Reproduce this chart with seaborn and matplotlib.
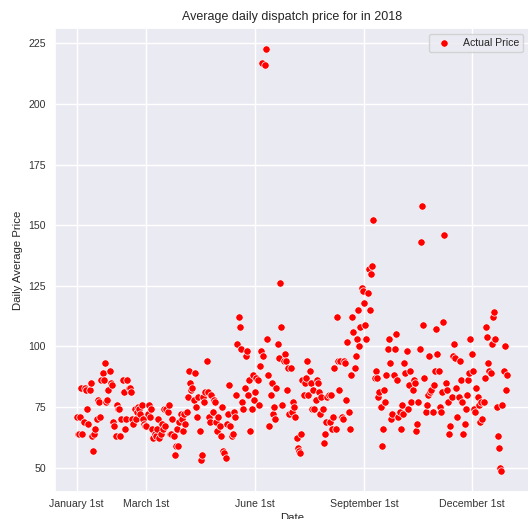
import matplotlib
matplotlib.use("Agg")
import matplotlib.pyplot as plt
import numpy as np
import pandas as pd
import seaborn as sns

# daily average dispatch price, one list per month
jan = [71, 64, 64, 71, 83, 64, 69, 83, 82, 74, 68, 82, 85, 63, 57, 64, 66, 70, 78, 77,
       71, 86, 89, 86, 93, 77, 78, 82, 90, 85, 84]
feb = [69, 67, 63, 76, 74, 74, 63, 70, 86, 81, 66, 70, 86, 83, 83, 81, 70, 68, 74, 70,
       73, 75, 74, 72, 76, 70, 68, 67]
mar = [67, 72, 76, 71, 74, 66, 62, 64, 63, 66, 70, 62, 64, 68, 66, 74, 67, 74, 73, 76,
       64, 64, 70, 63, 55, 59, 66, 59, 69, 72, 70]
apr = [65, 72, 68, 73, 79, 90, 85, 82, 83, 78, 89, 75, 71, 79, 65, 53, 55, 79, 77, 81,
       94, 81, 71, 69, 80, 73, 78, 77, 69, 65]
may = [71, 67, 63, 75, 57, 56, 54, 68, 72, 84, 67, 63, 64, 73, 71, 80, 101, 112, 108, 99,
       77, 74, 83, 96, 98, 80, 86, 65, 74, 88, 78]
jun = [81, 87, 86, 76, 92, 98, 217, 96, 216, 222.5, 103, 88, 67, 80, 85, 72, 75, 70, 83, 101,
       95, 126, 108, 76, 94, 97, 94, 82, 91, 72]
jul = [91, 73, 77, 75, 71, 62, 58, 57, 56, 64, 86, 80, 85, 87, 94, 80, 90, 85, 74, 82,
       74, 78, 86, 85, 81, 72, 79, 74, 60, 64, 69]
aug = [79, 80, 69, 80, 66, 71, 91, 66, 112, 94, 82, 94, 71, 70, 94, 93, 78, 102, 73, 66,
       88, 112, 106, 91, 96, 103, 115, 100, 108, 124, 123]
sep = [118, 109, 103, 122, 132, 115, 130, 133, 152, 87, 90, 87, 79, 81, 75, 59, 66, 82, 77, 88,
       99, 103, 93, 70, 72, 88, 99, 105, 86, 71]
oct_ = [73, 66, 76, 72, 93, 89, 98, 74, 84, 90, 77, 82, 86, 85, 65, 68, 77, 99, 143, 158,
        109, 87, 73, 76, 80, 96, 81, 82, 73, 84, 90]
nov = [107, 97, 90, 75, 73, 81, 110, 146, 85, 82, 77, 64, 67, 79, 96, 101, 95, 83, 71, 79,
       94, 86, 77, 64, 68, 74, 80, 86, 89, 103]
dec = [97, 90, 74, 73, 83, 79, 76, 69, 77, 70, 77, 87, 108, 104, 93, 90, 89, 101, 112, 114,
       103, 75, 63, 58, 50, 48.5, 76, 90, 100, 82, 88]

tick_dates = ["2018-01-01", "2018-03-01", "2018-06-01", "2018-09-01", "2018-12-01"]
tick_labels = ["January 1st", "March 1st", "June 1st", "September 1st", "December 1st"]

prices = jan + feb + mar + apr + may + jun + jul + aug + sep + oct_ + nov + dec
df = pd.DataFrame({
    "Date": pd.date_range("2018-01-01", periods=len(prices), freq="D"),
    "price": prices,
})

sns.set_theme(style="darkgrid")
plt.rcParams["font.family"] = ["Liberation Sans", "DejaVu Sans"]

fig = plt.figure(figsize=(5.28, 5.19), dpi=100)
ax = fig.add_axes([55 / 528, 26.7 / 519, 473.7 / 528, 464 / 519])

sns.scatterplot(data=df, x="Date", y="price", color="red", s=28,
                edgecolor="white", linewidth=0.5, label="Actual Price", ax=ax)

ax.set_xticks(pd.to_datetime(tick_dates))
ax.set_xticklabels(tick_labels)
ax.set_yticks([50, 75, 100, 125, 150, 175, 200, 225])
ax.tick_params(labelsize=7.6, colors="#333333", length=0)
ax.tick_params(axis="x", pad=4.5)
ax.tick_params(axis="y", pad=6.5)
ax.set_title("Average daily dispatch price for in 2018", fontsize=9.0, color="#262626")
ax.set_xlabel("Date", fontsize=8.2, labelpad=3)
ax.set_ylabel("Daily Average Price", fontsize=8.2, labelpad=4)
ax.legend(loc="upper right", fontsize=7.6)

fig.savefig("out.png", dpi=100)
